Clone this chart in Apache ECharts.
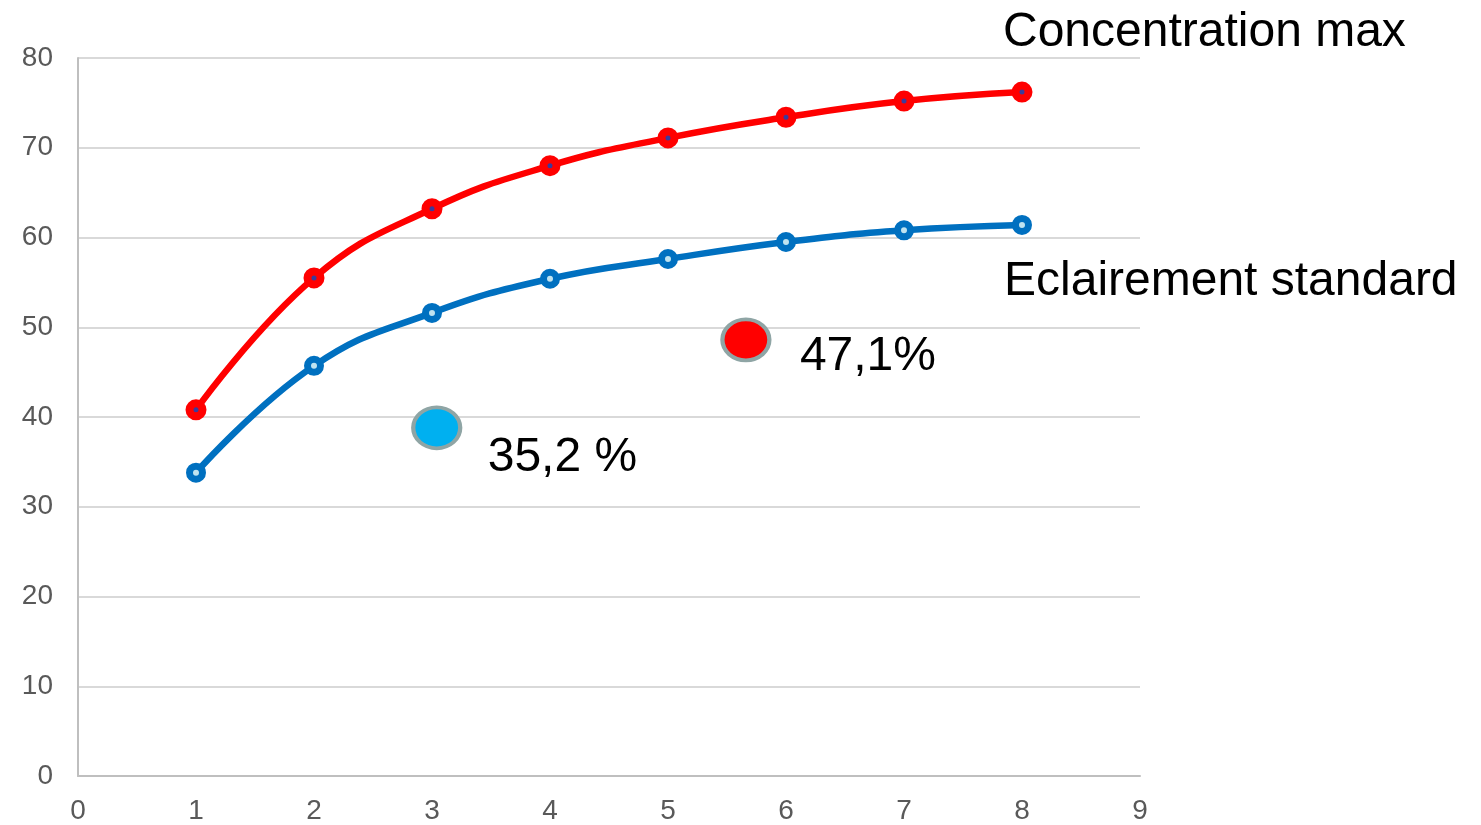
<!DOCTYPE html>
<html>
<head>
<meta charset="utf-8">
<script src="https://cdn.jsdelivr.net/npm/echarts@6/dist/echarts.min.js"></script>
<style>
html,body{margin:0;padding:0;background:#fff;}
#c{width:1481px;height:825px;}
</style>
</head>
<body>
<div id="c"></div>
<script>
const xValues = [1, 2, 3, 4, 5, 6, 7, 8];
const concentrationMax = [40.8, 55.5, 63.2, 68.0, 71.1, 73.4, 75.2, 76.2];
const eclairementStandard = [33.8, 45.7, 51.6, 55.4, 57.6, 59.5, 60.8, 61.4];
const blueNote = { x: 3.04, y: 38.8, text: '35,2 %' };
const redNote = { x: 5.66, y: 48.6, text: '47,1%' };
const seriesNames = ['Concentration max', 'Eclairement standard'];

const chart = echarts.init(document.getElementById('c'));
const font = 'Arial, "Liberation Sans", sans-serif';
const pairs = (ys) => xValues.map((x, i) => [x, ys[i]]);
const noteLabel = (text, offset) => ({
  show: true, formatter: text, offset: offset,
  position: 'inside', align: 'left', verticalAlign: 'middle',
  color: '#000000', fontSize: 48, fontFamily: font,
  textBorderWidth: 0
});

chart.setOption({
  animation: false,
  backgroundColor: '#fff',
  grid: { left: 78, right: 341, top: 58, bottom: 49 },
  xAxis: {
    type: 'value', min: 0, max: 9, interval: 1,
    axisLine: { show: true, lineStyle: { color: '#bfbfbf', width: 2 } },
    axisTick: { show: false },
    splitLine: { show: false },
    axisLabel: { color: '#595959', fontSize: 28, fontFamily: font, margin: 21 }
  },
  yAxis: {
    type: 'value', min: 0, max: 80, interval: 10,
    axisLine: { show: true, lineStyle: { color: '#bfbfbf', width: 2 } },
    axisTick: { show: false },
    splitLine: { show: true, lineStyle: { color: '#d9d9d9', width: 2 } },
    axisLabel: { color: '#595959', fontSize: 28, fontFamily: font, margin: 25 }
  },
  series: [
    {
      name: seriesNames[0], type: 'line', smooth: 0.45,
      data: pairs(concentrationMax),
      lineStyle: { color: '#ff0000', width: 6.5 },
      symbol: 'circle', symbolSize: 13,
      itemStyle: { color: '#3b3b9c', borderColor: '#ff0000', borderWidth: 8 },
      z: 3
    },
    {
      name: seriesNames[1], type: 'line', smooth: 0.45,
      data: pairs(eclairementStandard),
      lineStyle: { color: '#0070c0', width: 6.5 },
      symbol: 'circle', symbolSize: 13,
      itemStyle: { color: '#bfe3f0', borderColor: '#0070c0', borderWidth: 7 },
      z: 3
    },
    {
      type: 'scatter',
      symbol: 'circle', symbolSize: [47, 41],
      data: [
        { value: [blueNote.x, blueNote.y], itemStyle: { color: '#00b0f0', opacity: 1 },
          label: noteLabel(blueNote.text, [51, 30]) },
        { value: [redNote.x, redNote.y], itemStyle: { color: '#ff0000', opacity: 1 },
          label: noteLabel(redNote.text, [54, 17]) }
      ],
      itemStyle: { borderColor: '#8fa5a5', borderWidth: 4, opacity: 1 },
      emphasis: { disabled: true },
      z: 4
    }
  ],
  graphic: [
    { type: 'text', left: 1003, top: 9,
      style: { text: seriesNames[0], fill: '#000', fontSize: 48, fontFamily: font } },
    { type: 'text', left: 1004, top: 258,
      style: { text: seriesNames[1], fill: '#000', fontSize: 48, fontFamily: font } }
  ]
});
</script>
</body>
</html>
